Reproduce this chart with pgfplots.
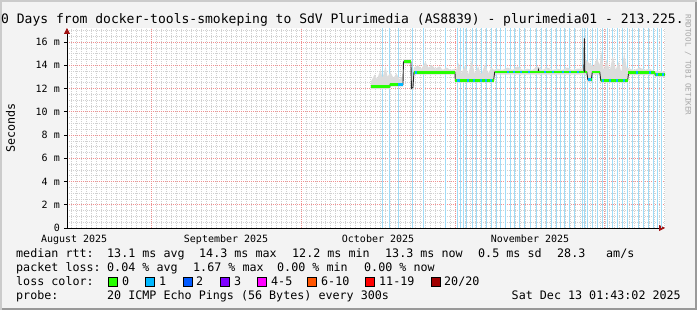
\documentclass[border=0pt]{standalone}
\usepackage{fontspec}
\setmainfont{DejaVu Sans Mono}
\usepackage{pgfplots}
\pgfplotsset{compat=1.18}
\usetikzlibrary{arrows.meta}
\definecolor{bg}{HTML}{F3F3F3}
\definecolor{shadea}{HTML}{CBCBCB}
\definecolor{shadeb}{HTML}{999999}
\definecolor{mgrid}{HTML}{F09090}
\definecolor{mingrid}{HTML}{D0D0D0}
\definecolor{lossbg}{RGB}{160,220,247}
\definecolor{lc0}{HTML}{26FF00}
\definecolor{lc1}{HTML}{00B8FF}
\definecolor{lc2}{HTML}{0059FF}
\definecolor{lc3}{HTML}{7E00FF}
\definecolor{lc4}{HTML}{FF00FF}
\definecolor{lc6}{HTML}{FF5500}
\definecolor{lc11}{HTML}{FF0000}
\definecolor{lc20}{HTML}{A00000}
\definecolor{arrowred}{HTML}{A01010}
\definecolor{smokelight}{HTML}{DCDCDC}
\newcommand\lf{\fontsize{11.7}{14}\selectfont}
\begin{document}
\begin{tikzpicture}[x=1pt,y=1pt]
\fill[bg] (0,0) rectangle (697,310);
\fill[shadea] (0,0) rectangle (2,310);
\fill[shadea] (0,308) rectangle (697,310);
\fill[shadeb] (695,0) rectangle (697,308);
\fill[shadeb] (2,0) rectangle (697,2);
\begin{axis}[
  at={(67pt,82pt)}, anchor=south west,
  scale only axis, width=598pt, height=200pt,
  xmin=14.07, xmax=134.09, ymin=0, ymax=17.2,
  axis background/.style={fill=white},
  axis lines=left,
  axis line style={black, line width=0.8pt},
  x axis line style={-{Triangle[length=6pt,width=6pt,color=arrowred]}},
  y axis line style={-{Triangle[length=6pt,width=6pt,color=arrowred]}},
  xtick={15.5,46,76.5,107},
  xticklabels={August 2025,September 2025,October 2025,November 2025},
  xtick style={draw=none},
  minor xtick={15,16,...,134},
  extra x ticks={31,61,92,122},
  extra x tick labels={},
  extra x tick style={grid=major, tick style={draw=black}},
  xminorgrids=true,
  ytick={0,2,...,16},
  yticklabels={0,2 m,4 m,6 m,8 m,10 m,12 m,14 m,16 m},
  minor ytick={0.5,1,...,17},
  ymajorgrids, yminorgrids,
  major grid style={mgrid, dash pattern=on 1pt off 1pt, line width=0.6pt},
  minor grid style={mingrid, dash pattern=on 1pt off 1pt, line width=0.5pt},
  tick style={black, line width=0.6pt},
  major tick length=3pt, minor tick length=0pt,
  tick align=outside,
  ticklabel style={font=\fontsize{10}{12}\selectfont},
  yticklabel style={anchor=east, inner sep=0pt, xshift=-4pt},
  xticklabel style={anchor=base, inner sep=0pt, yshift=-11.5pt},
  ylabel={Seconds},
  every axis y label/.style={at={(axis description cs:-0.0945,0.5)}, rotate=90, anchor=center, font=\lf},
  unbounded coords=jump,
  clip=true
]
% loss background lines (1 of 20 lost)
\addplot[ycomb, lossbg, line width=1pt, mark=none] coordinates {
(77.49,17.2)(78.89,17.2)(80.70,17.2)(83.51,17.2)(85.71,17.2)(90.13,17.2)
(92.54,17.2)(93.14,17.2)(93.74,17.2)(94.34,17.2)(95.55,17.2)(96.35,17.2)
(97.35,17.2)(98.36,17.2)(99.36,17.2)(100.36,17.2)(101.17,17.2)(102.17,17.2)
(103.17,17.2)(103.98,17.2)(104.98,17.2)(105.98,17.2)(107.19,17.2)(108.39,17.2)
(109.39,17.2)(110.40,17.2)(111.40,17.2)(112.40,17.2)(113.21,17.2)(114.01,17.2)
(115.01,17.2)(116.02,17.2)(117.62,17.2)(118.02,17.2)(118.63,17.2)(119.63,17.2)
(120.63,17.2)(121.64,17.2)(122.64,17.2)(123.64,17.2)(124.65,17.2)(125.65,17.2)
(126.65,17.2)(127.66,17.2)(128.86,17.2)(129.86,17.2)(130.87,17.2)(131.87,17.2)
(132.67,17.2)(133.48,17.2)};
% smoke
\addplot[fill=smokelight, draw=none] coordinates {
(75.08,12.6)(75.8,13.2)(76.3,12.8)(77.0,13.6)(77.4,12.9)(78.0,13.9)(78.4,13.0)
(79.0,13.4)(79.6,12.9)(80.2,13.3)(80.8,12.8)(81.4,13.0)(81.6,14.5)(83.1,14.5)
(83.2,12.6)(83.7,13.8)(84.5,14.0)(85.2,13.7)(86.0,14.3)(86.6,13.8)(87.3,14.0)
(88.0,13.7)(88.8,13.9)(89.5,13.6)(90.3,13.8)(91.0,13.6)(91.9,13.7)
(92.0,13.4)(92.7,14.2)(93.2,13.3)(94.0,14.0)(94.6,13.2)(95.3,14.4)(95.9,13.3)
(96.6,13.9)(97.2,13.2)(98.0,14.1)(98.6,13.3)(99.2,13.8)(99.8,13.6)
(100.5,13.7)(101.5,13.6)(102.5,13.8)(103.5,13.6)(104.5,13.9)(105.5,13.6)
(106.5,13.7)(107.5,13.6)(108.5,13.9)(109.5,13.6)(110.5,13.8)(111.5,13.6)
(112.5,13.7)(113.5,13.6)(114.5,13.8)(115.5,13.6)(116.5,13.7)(117.5,13.7)
(118.2,14.5)(118.8,14.2)(119.4,14.0)(119.8,13.9)(120.4,14.6)(121.0,14.0)
(121.3,15.2)(121.8,13.6)(122.4,14.5)(123.0,13.5)(123.6,14.8)(124.2,13.6)
(124.8,14.3)(125.3,13.4)(125.9,15.0)(126.4,13.8)(127,13.7)(128,13.6)
(129,13.8)(130,13.6)(131,13.7)(132,13.5)(133,13.5)(134.09,13.4)
(134.09,13.0)(132.08,13.0)(132.08,13.15)(126.66,13.15)(126.66,12.5)(121.04,12.5)
(121.04,13.2)(119.43,13.2)(119.43,12.55)(118.43,12.55)(118.43,13.2)(99.76,13.2)
(99.76,12.5)(91.94,12.5)(91.94,13.2)(83.71,13.2)(83.71,11.9)(83.1,11.9)
(83.1,14.1)(81.6,14.1)(81.6,12.15)(78.89,12.15)(78.89,11.95)(75.08,11.95)} -- cycle;
% median (thin dark line)
\addplot[black!85, line width=0.9pt, mark=none] coordinates {
(75.08,12.15)(78.89,12.15)(78.89,12.35)(81.5,12.35)(81.6,14.3)(83.1,14.3)
(83.2,12.0)(83.5,12.1)(83.71,13.38)(91.94,13.38)(92.0,12.69)(99.7,12.69)
(99.9,13.40)(108.6,13.40)(108.7,13.6)(108.8,13.40)(117.8,13.40)(117.9,16.3)
(118.0,13.4)(118.4,13.4)(118.6,12.75)(119.3,12.75)(119.5,13.4)(121.0,13.4)
(121.2,12.7)(126.6,12.7)(126.8,13.38)(132.0,13.38)(132.1,13.2)(134.09,13.2)};
% median coloured by loss: 0 lost
\addplot[lc0, line width=2.6pt, mark=none] coordinates {
(75.08,12.15)(78.89,12.15)(78.89,nan)
(78.89,12.35)(81.5,12.35)(81.5,nan)
(81.7,14.3)(83.1,14.3)(83.1,nan)
(83.71,13.38)(91.94,13.38)(91.94,nan)
(92.0,12.69)(99.7,12.69)(99.7,nan)
(99.9,13.40)(117.8,13.40)(117.8,nan)
(118.05,13.4)(118.45,13.4)(118.45,nan)
(118.55,12.75)(119.35,12.75)(119.35,nan)
(119.5,13.4)(121.0,13.4)(121.0,nan)
(121.15,12.7)(126.6,12.7)(126.6,nan)
(126.75,13.38)(132.0,13.38)(132.0,nan)
(132.1,13.2)(134.09,13.2)};
% median coloured by loss: 1 lost
\addplot[lc1, line width=2.6pt, mark=none] coordinates {
(80.5,12.35)(81.5,12.35)(81.5,nan)
(84.0,13.38)(84.4,13.38)(84.4,nan)
(92.35,12.69)(92.95,12.69)(92.95,nan)
(94.3,12.69)(94.7,12.69)(94.7,nan)
(95.5,12.69)(95.9,12.69)(95.9,nan)
(96.9,12.69)(97.3,12.69)(97.3,nan)
(97.9,12.69)(98.3,12.69)(98.3,nan)
(98.9,12.69)(99.3,12.69)(99.3,nan)
(102.3,13.4)(102.7,13.4)(102.7,nan)
(103.5,13.4)(103.9,13.4)(103.9,nan)
(104.9,13.4)(105.3,13.4)(105.3,nan)
(106.5,13.4)(106.9,13.4)(106.9,nan)
(109.9,13.4)(110.3,13.4)(110.3,nan)
(111.5,13.4)(111.9,13.4)(111.9,nan)
(113.5,13.4)(113.9,13.4)(113.9,nan)
(114.9,13.4)(115.3,13.4)(115.3,nan)
(116.5,13.4)(116.9,13.4)(116.9,nan)
(118.6,12.75)(119.2,12.75)(119.2,nan)
(121.4,12.7)(121.8,12.7)(121.8,nan)
(122.8,12.7)(123.2,12.7)(123.2,nan)
(124.2,12.7)(124.6,12.7)(124.6,nan)
(125.6,12.7)(126.0,12.7)(126.0,nan)
(128.3,13.38)(128.7,13.38)(128.7,nan)
(130.9,13.38)(131.3,13.38)(131.3,nan)
(132.3,13.2)(132.7,13.2)(132.7,nan)
(133.5,13.2)(133.9,13.2)};
\end{axis}
% title and side text
\node[anchor=base west, inner sep=0pt, font=\fontsize{13.03}{15}\selectfont] at (-14.7,286) {120 Days from docker-tools-smokeping to SdV Plurimedia (AS8839) - plurimedia01 - 213.225.};
\node[rotate=-90, inner sep=0pt, font=\fontsize{7.6}{9}\selectfont, text=black!35] at (688,245) {RRDTOOL / TOBI OETIKER};
% legend lines
\node[anchor=base west, inner sep=0pt, font=\lf] at (16,52) {median rtt:};
\node[anchor=base west, inner sep=0pt, font=\lf] at (107,52) {13.1 ms avg};
\node[anchor=base west, inner sep=0pt, font=\lf] at (199,52) {14.3 ms max};
\node[anchor=base west, inner sep=0pt, font=\lf] at (292,52) {12.2 ms min};
\node[anchor=base west, inner sep=0pt, font=\lf] at (385,52) {13.3 ms now};
\node[anchor=base west, inner sep=0pt, font=\lf] at (478,52) {0.5 ms sd};
\node[anchor=base west, inner sep=0pt, font=\lf] at (557,52) {28.3};
\node[anchor=base west, inner sep=0pt, font=\lf] at (606,52) {am/s};
\node[anchor=base west, inner sep=0pt, font=\lf] at (16,38) {packet loss:};
\node[anchor=base west, inner sep=0pt, font=\lf] at (107,38) {0.04 \% avg};
\node[anchor=base west, inner sep=0pt, font=\lf] at (193,38) {1.67 \% max};
\node[anchor=base west, inner sep=0pt, font=\lf] at (277,38) {0.00 \% min};
\node[anchor=base west, inner sep=0pt, font=\lf] at (364,38) {0.00 \% now};
\node[anchor=base west, inner sep=0pt, font=\lf] at (16,24) {loss color:};
\draw[fill=lc0, line width=0.8pt] (108,24) rectangle (117,33);
\node[anchor=base west, inner sep=0pt, font=\lf] at (122,24) {0};
\draw[fill=lc1, line width=0.8pt] (145,24) rectangle (154,33);
\node[anchor=base west, inner sep=0pt, font=\lf] at (159,24) {1};
\draw[fill=lc2, line width=0.8pt] (183,24) rectangle (192,33);
\node[anchor=base west, inner sep=0pt, font=\lf] at (196,24) {2};
\draw[fill=lc3, line width=0.8pt] (220,24) rectangle (229,33);
\node[anchor=base west, inner sep=0pt, font=\lf] at (234,24) {3};
\draw[fill=lc4, line width=0.8pt] (257,24) rectangle (266,33);
\node[anchor=base west, inner sep=0pt, font=\lf] at (271,24) {4-5};
\draw[fill=lc6, line width=0.8pt] (307,24) rectangle (316,33);
\node[anchor=base west, inner sep=0pt, font=\lf] at (321,24) {6-10};
\draw[fill=lc11, line width=0.8pt] (365,24) rectangle (374,33);
\node[anchor=base west, inner sep=0pt, font=\lf] at (379,24) {11-19};
\draw[fill=lc20, line width=0.8pt] (431,24) rectangle (440,33);
\node[anchor=base west, inner sep=0pt, font=\lf] at (444,24) {20/20};
\node[anchor=base west, inner sep=0pt, font=\lf] at (16,10) {probe:};
\node[anchor=base west, inner sep=0pt, font=\lf] at (107,10) {20 ICMP Echo Pings (56 Bytes) every 300s};
\node[anchor=base east, inner sep=0pt, font=\lf] at (681,10) {Sat Dec 13 01:43:02 2025};
\pgfresetboundingbox
\useasboundingbox (0,0) rectangle (697,310);
\end{tikzpicture}
\end{document}
